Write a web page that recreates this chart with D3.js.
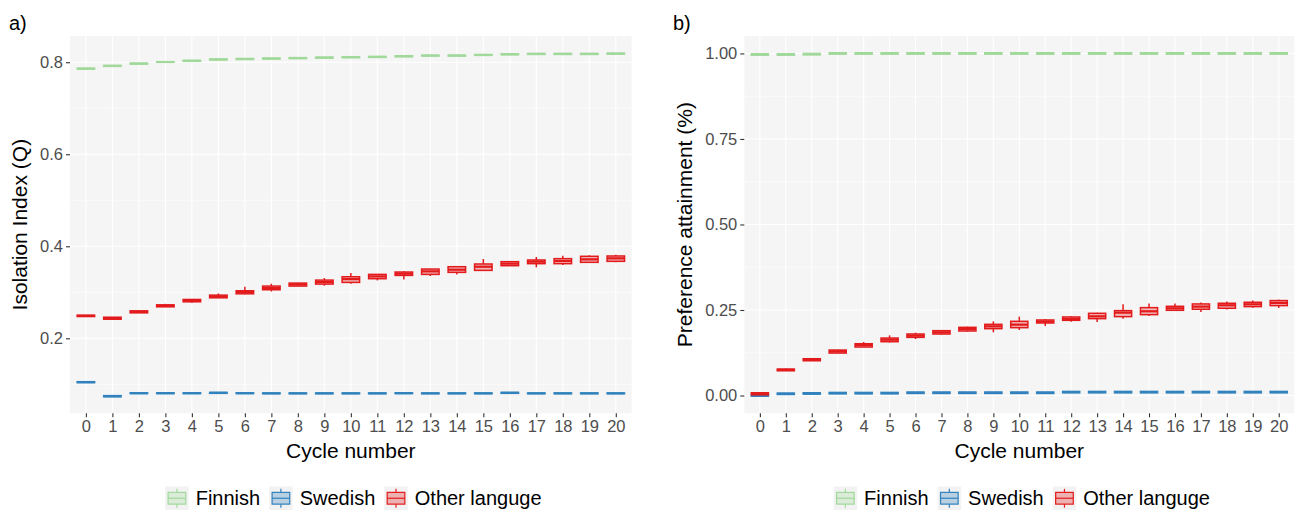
<!DOCTYPE html>
<html>
<head>
<meta charset="utf-8">
<script src="https://cdn.jsdelivr.net/npm/d3@7"></script>
<style>
  html, body { margin: 0; padding: 0; background: #ffffff; }
  svg { display: block; font-family: "Liberation Sans", Arial, sans-serif; }
</style>
</head>
<body>
<svg id="chart" width="1301" height="512"></svg>
<script>
// Cycle numbers shown on the x axis
const cycleLabels = ["0","1","2","3","4","5","6","7","8","9","10",
                     "11","12","13","14","15","16","17","18","19","20"];

const seriesNames  = ["Finnish", "Swedish", "Other languge"];
const seriesColors = ["#a1d99b", "#3182bd", "#e31a1c"];

// Each row: [lower whisker, Q1, median, Q3, upper whisker] for one cycle

// a) Isolation index (Q)
const isoFinnish = [
  [0.785,0.785,0.786,0.787,0.787],[0.791,0.791,0.792,0.793,0.793],[0.796,0.796,0.797,0.798,0.798],
  [0.800,0.800,0.8005,0.801,0.801],[0.802,0.802,0.803,0.804,0.804],[0.805,0.805,0.806,0.807,0.807],
  [0.806,0.806,0.807,0.808,0.808],[0.807,0.807,0.808,0.809,0.809],[0.808,0.808,0.809,0.810,0.810],
  [0.809,0.809,0.810,0.811,0.811],[0.810,0.810,0.811,0.812,0.812],[0.8105,0.8105,0.8115,0.8125,0.8125],
  [0.812,0.812,0.813,0.814,0.814],[0.8135,0.8135,0.8144,0.8153,0.8153],[0.8135,0.8135,0.8144,0.8153,0.8153],
  [0.815,0.815,0.8158,0.8166,0.8166],[0.8163,0.8163,0.8173,0.8183,0.8183],[0.817,0.817,0.818,0.819,0.819],
  [0.817,0.817,0.818,0.819,0.819],[0.817,0.817,0.818,0.819,0.819],[0.8177,0.8177,0.8187,0.8197,0.8197]
];
const isoSwedish = [
  [0.1037,0.1037,0.1047,0.1057,0.1057],[0.0730,0.0730,0.0742,0.0754,0.0754],[0.0800,0.0800,0.0807,0.0814,0.0814],
  [0.0800,0.0800,0.0807,0.0814,0.0814],[0.0800,0.0800,0.0807,0.0814,0.0814],[0.0804,0.0804,0.0814,0.0824,0.0824],
  [0.0800,0.0800,0.0807,0.0814,0.0814],[0.0797,0.0797,0.0804,0.0811,0.0811],[0.0797,0.0797,0.0804,0.0811,0.0811],
  [0.0797,0.0797,0.0804,0.0811,0.0811],[0.0797,0.0797,0.0804,0.0811,0.0811],[0.0797,0.0797,0.0804,0.0811,0.0811],
  [0.0800,0.0800,0.0807,0.0814,0.0814],[0.0797,0.0797,0.0804,0.0811,0.0811],[0.0797,0.0797,0.0804,0.0811,0.0811],
  [0.0797,0.0797,0.0804,0.0811,0.0811],[0.0804,0.0804,0.0814,0.0824,0.0824],[0.0797,0.0797,0.0804,0.0811,0.0811],
  [0.0797,0.0797,0.0804,0.0811,0.0811],[0.0797,0.0797,0.0804,0.0811,0.0811],[0.0797,0.0797,0.0804,0.0811,0.0811]
];
const isoOther = [
  [0.2473,0.2473,0.2487,0.2502,0.2502],[0.2410,0.2415,0.2436,0.2458,0.2462],[0.2550,0.2553,0.2575,0.2596,0.2600],
  [0.2680,0.2684,0.2705,0.2727,0.2749],[0.2771,0.2793,0.2822,0.2844,0.2850],[0.2875,0.2880,0.2909,0.2938,0.2975],
  [0.2960,0.2967,0.3004,0.3033,0.3120],[0.3018,0.3055,0.3091,0.3135,0.3186],[0.3130,0.3135,0.3171,0.3200,0.3205],
  [0.3142,0.3178,0.3222,0.3265,0.3309],[0.3186,0.3215,0.3287,0.3338,0.3418],[0.3258,0.3295,0.3345,0.3389,0.3395],
  [0.3280,0.3367,0.3404,0.3440,0.3455],[0.3353,0.3389,0.3455,0.3505,0.3510],[0.3389,0.3433,0.3491,0.3556,0.3560],
  [0.3470,0.3476,0.3556,0.3615,0.3724],[0.3570,0.3578,0.3622,0.3665,0.3680],[0.3542,0.3622,0.3665,0.3702,0.3767],
  [0.3593,0.3622,0.3680,0.3731,0.3796],[0.3644,0.3651,0.3716,0.3782,0.3804],[0.3651,0.3673,0.3738,0.3789,0.3818]
];

// b) Preference attainment (%)
const prefFinnish = [
  [0.995,0.995,0.997,0.999,0.999],[0.995,0.995,0.997,0.999,0.999],[0.996,0.996,0.998,1.000,1.000],
  [0.998,0.998,1.000,1.002,1.002],[0.998,0.998,1.000,1.002,1.002],[0.998,0.998,1.000,1.002,1.002],
  [0.998,0.998,1.000,1.002,1.002],[0.998,0.998,1.000,1.002,1.002],[0.998,0.998,1.000,1.002,1.002],
  [0.998,0.998,1.000,1.002,1.002],[0.998,0.998,1.000,1.002,1.002],[0.998,0.998,1.000,1.002,1.002],
  [0.998,0.998,1.000,1.002,1.002],[0.998,0.998,1.000,1.002,1.002],[0.998,0.998,1.000,1.002,1.002],
  [0.998,0.998,1.000,1.002,1.002],[0.998,0.998,1.000,1.002,1.002],[0.998,0.998,1.000,1.002,1.002],
  [0.998,0.998,1.000,1.002,1.002],[0.998,0.998,1.000,1.002,1.002],[0.998,0.998,1.000,1.002,1.002]
];
const prefSwedish = [
  [-0.002,-0.002,0.000,0.002,0.002],[0.003,0.003,0.005,0.007,0.007],[0.004,0.004,0.006,0.008,0.008],
  [0.005,0.005,0.007,0.009,0.009],[0.005,0.005,0.007,0.009,0.009],[0.005,0.005,0.007,0.009,0.009],
  [0.006,0.006,0.008,0.010,0.010],[0.006,0.006,0.008,0.010,0.010],[0.006,0.006,0.008,0.010,0.010],
  [0.006,0.006,0.008,0.010,0.010],[0.006,0.006,0.008,0.010,0.010],[0.006,0.006,0.008,0.010,0.010],
  [0.008,0.008,0.010,0.012,0.012],[0.008,0.008,0.010,0.012,0.012],[0.008,0.008,0.010,0.012,0.012],
  [0.008,0.008,0.010,0.012,0.012],[0.008,0.008,0.010,0.012,0.012],[0.008,0.008,0.010,0.012,0.012],
  [0.008,0.008,0.010,0.012,0.012],[0.008,0.008,0.010,0.012,0.012],[0.008,0.008,0.010,0.012,0.012]
];
const prefOther = [
  [0.002,0.002,0.005,0.008,0.008],[0.0713,0.0723,0.0752,0.0772,0.0781],[0.1006,0.1016,0.1045,0.1075,0.1085],
  [0.1231,0.1241,0.1290,0.1329,0.1338],[0.1407,0.1417,0.1475,0.1514,0.1563],[0.1553,0.1573,0.1631,0.1680,0.1759],
  [0.1651,0.1700,0.1749,0.1798,0.1837],[0.1778,0.1798,0.1846,0.1895,0.1915],[0.1866,0.1886,0.1944,0.1993,0.2013],
  [0.1847,0.1954,0.2022,0.2081,0.2169],[0.1915,0.1983,0.2071,0.2169,0.2306],[0.2032,0.2120,0.2159,0.2208,0.2237],
  [0.2159,0.2198,0.2237,0.2296,0.2315],[0.2149,0.2247,0.2315,0.2403,0.2423],[0.2247,0.2306,0.2423,0.2482,0.2667],
  [0.2325,0.2364,0.2462,0.2569,0.2687],[0.2482,0.2491,0.2550,0.2608,0.2687],[0.2443,0.2521,0.2599,0.2677,0.2716],
  [0.2511,0.2550,0.2638,0.2697,0.2745],[0.2569,0.2599,0.2667,0.2726,0.2775],[0.2560,0.2628,0.2706,0.2775,0.2804]
];

// Axis ticks and limits
const isoTicks       = [0.2, 0.4, 0.6, 0.8];
const isoTickLabels  = ["0.2", "0.4", "0.6", "0.8"];
const isoMinor       = [0.1, 0.3, 0.5, 0.7];
const isoLimits      = [0.037, 0.857];
const prefTicks      = [0, 0.25, 0.5, 0.75, 1];
const prefTickLabels = ["0.00", "0.25", "0.50", "0.75", "1.00"];
const prefMinor      = [0.125, 0.375, 0.625, 0.875];
const prefLimits     = [-0.052, 1.051];

const svg = d3.select("#chart");

const panels = [
  { tag: "a)", tagX: 9,   left: 70,    right: 631.7,  titleX: 27,
    yTitle: "Isolation Index (Q)", series: [isoFinnish, isoSwedish, isoOther],
    ticks: isoTicks, tickLabels: isoTickLabels, minor: isoMinor, limits: isoLimits },
  { tag: "b)", tagX: 673, left: 744.3, right: 1294.3, titleX: 692,
    yTitle: "Preference attainment (%)", series: [prefFinnish, prefSwedish, prefOther],
    ticks: prefTicks, tickLabels: prefTickLabels, minor: prefMinor, limits: prefLimits }
];

const panelTop = 36, panelBottom = 413.3;
const boxFrac = 0.66;

panels.forEach(p => {
  const g = svg.append("g");
  const x = d3.scalePoint().domain(cycleLabels).range([p.left, p.right]).padding(0.6);
  const y = d3.scaleLinear().domain(p.limits).range([panelBottom, panelTop]);
  const bw = x.step() * boxFrac;

  // panel background and grid
  g.append("rect").attr("x", p.left).attr("y", panelTop)
    .attr("width", p.right - p.left).attr("height", panelBottom - panelTop).attr("fill", "#f5f5f5");
  g.selectAll(".minor").data(p.minor).join("line")
    .attr("x1", p.left).attr("x2", p.right)
    .attr("y1", d => y(d)).attr("y2", d => y(d))
    .attr("stroke", "#ffffff").attr("stroke-width", 0.6);
  g.selectAll(".majorY").data(p.ticks).join("line")
    .attr("x1", p.left).attr("x2", p.right)
    .attr("y1", d => y(d)).attr("y2", d => y(d))
    .attr("stroke", "#ffffff").attr("stroke-width", 1.1);
  g.selectAll(".majorX").data(cycleLabels).join("line")
    .attr("x1", d => x(d)).attr("x2", d => x(d))
    .attr("y1", panelTop).attr("y2", panelBottom)
    .attr("stroke", "#ffffff").attr("stroke-width", 1.1);

  // boxplots, one layer per language group
  p.series.forEach((rows, si) => {
    const col = seriesColors[si];
    const sg = g.append("g");
    rows.forEach((r, i) => {
      const cx = x(cycleLabels[i]);
      const [lo, q1, med, q3, hi] = r;
      sg.append("line").attr("x1", cx).attr("x2", cx)
        .attr("y1", y(hi)).attr("y2", y(q3))
        .attr("stroke", col).attr("stroke-width", 1.5);
      sg.append("line").attr("x1", cx).attr("x2", cx)
        .attr("y1", y(q1)).attr("y2", y(lo))
        .attr("stroke", col).attr("stroke-width", 1.5);
      sg.append("rect").attr("x", cx - bw / 2).attr("y", y(q3))
        .attr("width", bw).attr("height", Math.max(0, y(q1) - y(q3)))
        .attr("fill", col).attr("fill-opacity", 0.3)
        .attr("stroke", col).attr("stroke-width", 1.5);
      sg.append("line").attr("x1", cx - bw / 2).attr("x2", cx + bw / 2)
        .attr("y1", y(med)).attr("y2", y(med))
        .attr("stroke", col).attr("stroke-width", 2.2);
    });
  });

  // y axis
  const yAxis = d3.axisLeft(y).tickValues(p.ticks)
    .tickFormat((d, i) => p.tickLabels[i]).tickSize(4).tickPadding(3);
  const ya = g.append("g").attr("transform", `translate(${p.left},0)`).call(yAxis);
  ya.select(".domain").remove();
  ya.selectAll(".tick line").attr("stroke", "#333333").attr("stroke-width", 1.1);
  ya.selectAll(".tick text").attr("fill", "#4d4d4d")
    .style("font-size", "16.5px").style("font-family", "Liberation Sans, Arial, sans-serif");

  // x axis
  const xAxis = d3.axisBottom(x).tickSize(4).tickPadding(3);
  const xa = g.append("g").attr("transform", `translate(0,${panelBottom})`).call(xAxis);
  xa.select(".domain").remove();
  xa.selectAll(".tick line").attr("stroke", "#333333").attr("stroke-width", 1.1);
  xa.selectAll(".tick text").attr("fill", "#4d4d4d")
    .style("font-size", "16.5px").style("font-family", "Liberation Sans, Arial, sans-serif");

  // titles
  g.append("text").attr("x", (p.left + p.right) / 2).attr("y", 458)
    .attr("text-anchor", "middle").attr("fill", "#000").style("font-size", "21px")
    .text("Cycle number");
  g.append("text")
    .attr("transform", `translate(${p.titleX},${(panelTop + panelBottom) / 2}) rotate(-90)`)
    .attr("text-anchor", "middle").attr("fill", "#000").style("font-size", "21px")
    .text(p.yTitle);
  g.append("text").attr("x", p.tagX).attr("y", 30)
    .attr("fill", "#000").style("font-size", "20px").text(p.tag);

  // legend
  const key = 23.5, gapText = 7, gapItem = 9, ly = 486.5;
  const lg = g.append("g");
  let cursor = 0;
  seriesNames.forEach((name, si) => {
    const col = seriesColors[si];
    const it = lg.append("g").attr("transform", `translate(${cursor},0)`);
    it.append("rect").attr("x", 0).attr("y", ly).attr("width", key).attr("height", key)
      .attr("fill", "#f2f2f2");
    const kx = key / 2;
    it.append("line").attr("x1", kx).attr("x2", kx).attr("y1", ly + key * 0.1).attr("y2", ly + key * 0.25)
      .attr("stroke", col).attr("stroke-width", 1.2);
    it.append("line").attr("x1", kx).attr("x2", kx).attr("y1", ly + key * 0.75).attr("y2", ly + key * 0.9)
      .attr("stroke", col).attr("stroke-width", 1.2);
    it.append("rect").attr("x", key * 0.125).attr("y", ly + key * 0.25)
      .attr("width", key * 0.75).attr("height", key * 0.5)
      .attr("fill", col).attr("fill-opacity", 0.3).attr("stroke", col).attr("stroke-width", 1.2);
    it.append("line").attr("x1", key * 0.125).attr("x2", key * 0.875)
      .attr("y1", ly + key / 2).attr("y2", ly + key / 2)
      .attr("stroke", col).attr("stroke-width", 1.2);
    const t = it.append("text").attr("x", key + gapText).attr("y", ly + key / 2 + 7)
      .attr("fill", "#000").style("font-size", "20px").text(name);
    cursor += key + gapText + t.node().getComputedTextLength() + gapItem;
  });
  const total = cursor - gapItem;
  lg.attr("transform", `translate(${(p.left + p.right) / 2 - total / 2 + 2.5},0)`);
});
</script>
</body>
</html>
